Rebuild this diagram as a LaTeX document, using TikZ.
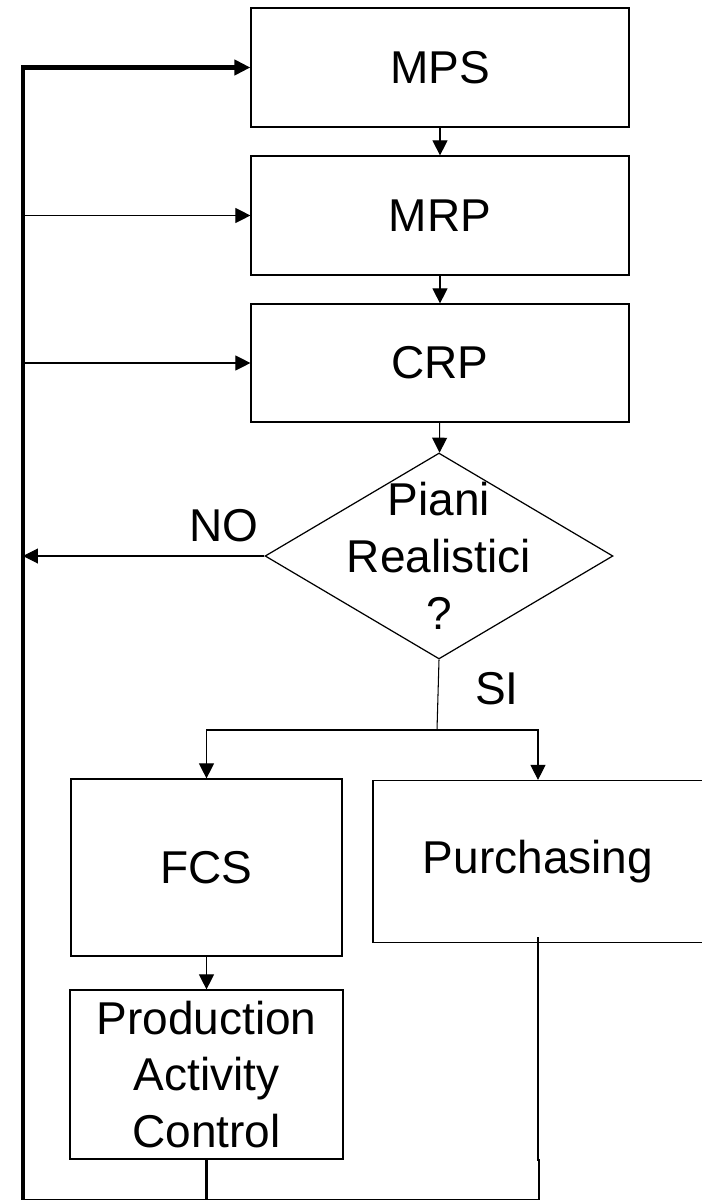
\documentclass[tikz,border=0pt]{standalone}
\usepackage{fontspec}
\setmainfont{Liberation Sans}
\usetikzlibrary{arrows.meta,shapes.geometric}

\begin{document}
\begin{tikzpicture}[
    x = 0.02cm,
    y = -0.02cm,
    line width = 0.6pt,
    >={Triangle[length=0.3cm, width=0.3cm]},
    every node/.style = {
      font = \fontsize{26.2}{32.4}\selectfont
    },
    box/.style = {
      draw,
      line width = 0.7pt,
      rectangle,
      inner sep = 0pt,
      align = center
    },
    decision/.style = {
      draw,
      line width = 0.7pt,
      diamond,
      inner sep = 0pt,
      minimum width = 6.96cm,
      minimum height = 4.12cm
    },
    feedback/.style = {
      line width = 1.1pt
    }
  ]
  \useasboundingbox (0,0) rectangle (702,1203);
  \clip (0,0) rectangle (702,1203);

  % planning chain
  \node[box, minimum width=7.56cm, minimum height=2.38cm] (MPS) at (440,67.5) {MPS};
  \node[box, minimum width=7.56cm, minimum height=2.38cm] (MRP) at (440,215.5) {MRP};
  \node[box, minimum width=7.56cm, minimum height=2.36cm] (CRP) at (440,363) {CRP};

  \node[decision] (dec) at (439,556) {};
  \node[align=center, inner sep=0pt] (dectext) at (dec.center) {Piani\\Realistici\\?};

  % execution
  \node[box, minimum width=5.42cm, minimum height=3.54cm] (FCS) at (206.5,867.5) {FCS};
  \node[box, minimum width=5.46cm, minimum height=3.38cm] (PAC) at (206.5,1074.5) {Production\\Activity\\Control};
  \node[box, minimum width=6.6cm, minimum height=3.24cm] (Purch) at (538,861.5) {Purchasing};

  \coordinate (fbtop) at (23,67.5);
  \coordinate (fbbot) at (23,1199.5);
  \coordinate (fork) at (437,730);
  \coordinate (jog) at (539,1160);

  \draw[->] (MPS) -- (MRP);
  \draw[->] (MRP) -- (CRP);
  \draw[->] (CRP) -- (dec);

  \draw (dec.south) -- (fork);
  \draw[->] (fork) -| (FCS.north);
  \draw[->] (fork) -| (Purch.north);
  \draw[->] (FCS) -- (PAC);

  \node (si) at (497,689) {SI};
  \node (no) at (224,526) {NO};
  \draw[->] (dec.west) -- (fbbot |- dec.west);

  % return loop
  \draw[line width=2.3pt, -{Triangle[length=0.32cm, width=0.3cm]}]
    (fbbot) -- (fbtop) -- (MPS.west);
  \draw[->] (fbbot |- MRP.west) -- (MRP.west);
  \draw[->] (fbbot |- CRP.west) -- (CRP.west);

  \draw[line width=1.7pt] (PAC.south) -- (PAC.south |- fbbot);
  \draw[feedback] ([yshift=0.12cm]Purch.south) |- (jog) -- (jog |- fbbot) -- (fbbot);

\end{tikzpicture}
\end{document}
